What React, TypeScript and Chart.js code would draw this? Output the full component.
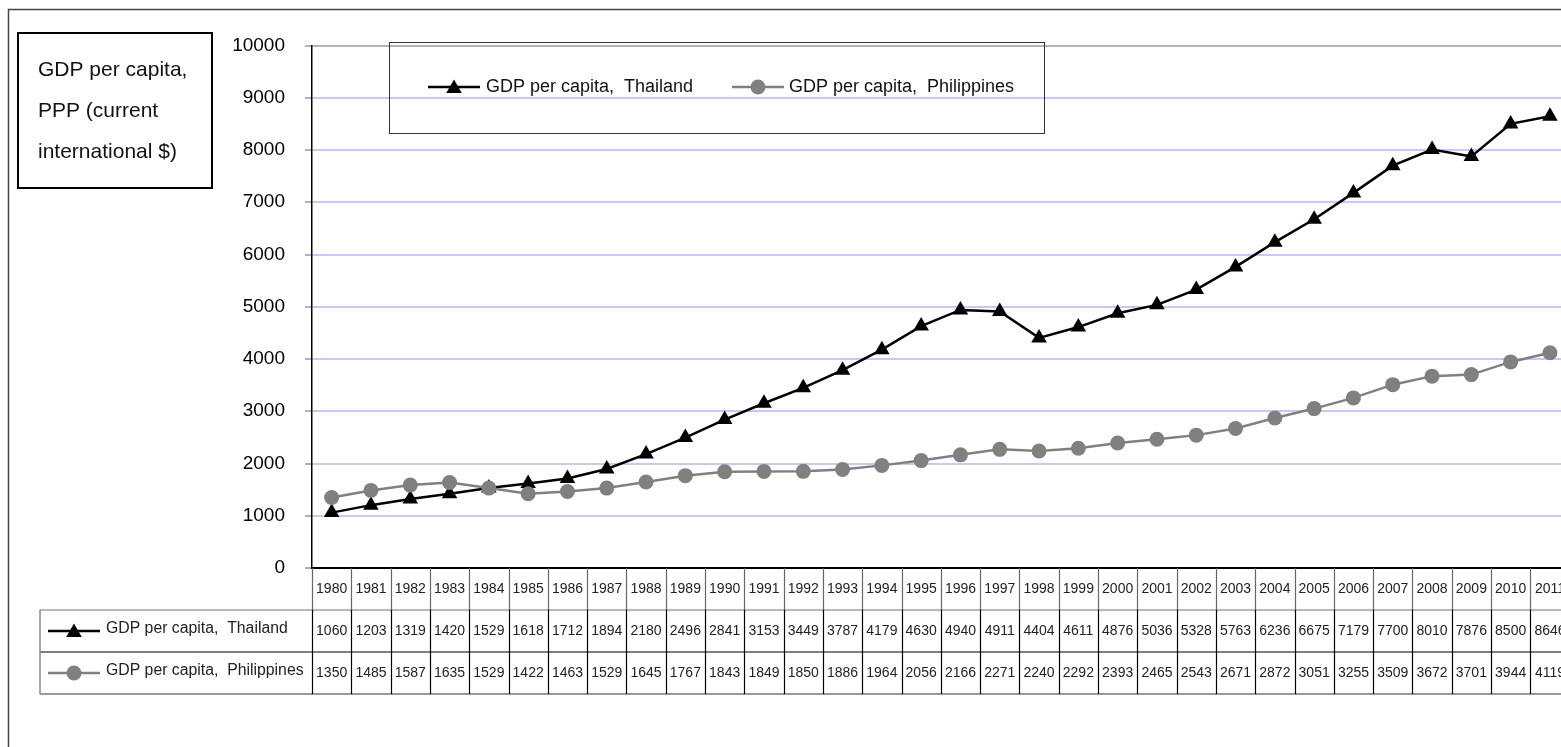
import React, { useEffect, useRef } from 'react';
import { Chart, registerables } from 'chart.js';

Chart.register(...registerables);

const years = ['1980','1981','1982','1983','1984','1985','1986','1987','1988','1989','1990','1991','1992','1993','1994','1995','1996','1997','1998','1999','2000','2001','2002','2003','2004','2005','2006','2007','2008','2009','2010','2011'];
const thailand = [1060,1203,1319,1420,1529,1618,1712,1894,2180,2496,2841,3153,3449,3787,4179,4630,4940,4911,4404,4611,4876,5036,5328,5763,6236,6675,7179,7700,8010,7876,8500,8646];
const philippines = [1350,1485,1587,1635,1529,1422,1463,1529,1645,1767,1843,1849,1850,1886,1964,2056,2166,2271,2240,2292,2393,2465,2543,2671,2872,3051,3255,3509,3672,3701,3944,4119];
const seriesLabels = ['GDP per capita,  Thailand', 'GDP per capita,  Philippines'];
const axisTitleLines = ['GDP per capita,', 'PPP (current', 'international $)'];
const yMin = 0;
const yMax = 10000;
const yStep = 1000;

const FONT = '"Liberation Sans", Arial, Helvetica, sans-serif';
const THAI_COLOR = '#000000';
const PHIL_COLOR = '#808080';

function drawTriangle(ctx: CanvasRenderingContext2D, x: number, y: number, r: number, color: string) {
  ctx.save();
  ctx.fillStyle = color;
  ctx.beginPath();
  ctx.moveTo(x, y - r);
  ctx.lineTo(x + r * Math.sin(Math.PI * 2 / 3), y - r * Math.cos(Math.PI * 2 / 3));
  ctx.lineTo(x + r * Math.sin(Math.PI * 4 / 3), y - r * Math.cos(Math.PI * 4 / 3));
  ctx.closePath();
  ctx.fill();
  ctx.restore();
}

function drawCircle(ctx: CanvasRenderingContext2D, x: number, y: number, r: number, color: string) {
  ctx.save();
  ctx.fillStyle = color;
  ctx.beginPath();
  ctx.arc(x, y, r, 0, Math.PI * 2);
  ctx.fill();
  ctx.restore();
}

function drawKey(ctx: CanvasRenderingContext2D, idx: number, x1: number, x2: number, y: number) {
  const color = idx === 0 ? THAI_COLOR : PHIL_COLOR;
  ctx.save();
  ctx.strokeStyle = color;
  ctx.lineWidth = 2.5;
  ctx.beginPath();
  ctx.moveTo(x1, y);
  ctx.lineTo(x2, y);
  ctx.stroke();
  ctx.restore();
  const cx = (x1 + x2) / 2;
  if (idx === 0) drawTriangle(ctx, cx, y + 1.5, 9, color);
  else drawCircle(ctx, cx, y, 7.5, color);
}

const decorPlugin = {
  id: 'decor',
  beforeDraw(chart: any) {
    const ctx: CanvasRenderingContext2D = chart.ctx;
    ctx.save();
    ctx.fillStyle = '#ffffff';
    ctx.fillRect(0, 0, chart.width, chart.height);
    ctx.strokeStyle = '#444';
    ctx.lineWidth = 1.5;
    ctx.strokeRect(8.5, 9.5, chart.width + 50, chart.height + 50);
    ctx.restore();
  },
  afterDraw(chart: any) {
    const ctx: CanvasRenderingContext2D = chart.ctx;
    const xs = chart.scales.x;
    const area = chart.chartArea;
    const n = years.length;
    const step = xs.getPixelForValue(1) - xs.getPixelForValue(0);
    const colLeft = xs.getPixelForValue(0) - step / 2;
    const top = area.bottom;
    const rowH = 42;
    const tableLeft = 40;
    const r1 = top + rowH;
    const r2 = r1 + rowH;
    const r3 = r2 + rowH;
    const rightEdge = colLeft + step * n;

    ctx.save();
    ctx.lineWidth = 1.5;
    ctx.strokeStyle = '#a0a0a0';
    ctx.beginPath(); ctx.moveTo(tableLeft, r1); ctx.lineTo(rightEdge, r1); ctx.stroke();
    ctx.strokeStyle = '#555';
    ctx.beginPath(); ctx.moveTo(tableLeft, r2); ctx.lineTo(rightEdge, r2); ctx.stroke();
    ctx.strokeStyle = '#777';
    ctx.beginPath(); ctx.moveTo(tableLeft, r3); ctx.lineTo(rightEdge, r3); ctx.stroke();
    ctx.strokeStyle = '#888';
    ctx.beginPath(); ctx.moveTo(tableLeft, r1); ctx.lineTo(tableLeft, r3); ctx.stroke();

    for (let i = 0; i <= n; i++) {
      const x = Math.round(colLeft + step * i) + 0.5;
      ctx.strokeStyle = '#666';
      ctx.lineWidth = 1.2;
      ctx.beginPath(); ctx.moveTo(x, top); ctx.lineTo(x, r1); ctx.stroke();
      ctx.strokeStyle = '#000';
      ctx.beginPath(); ctx.moveTo(x, r1); ctx.lineTo(x, r3); ctx.stroke();
    }

    ctx.fillStyle = '#222';
    ctx.font = `14px ${FONT}`;
    ctx.textAlign = 'center';
    ctx.textBaseline = 'middle';
    for (let i = 0; i < n; i++) {
      const cx = xs.getPixelForValue(i);
      ctx.fillText(years[i], cx, top + 21);
      ctx.fillText(String(thailand[i]), cx, r1 + 21);
      ctx.fillText(String(philippines[i]), cx, r2 + 21);
    }

    ctx.font = `15.8px ${FONT}`;
    ctx.textAlign = 'left';
    drawKey(ctx, 0, 48, 100, r1 + 21);
    ctx.fillStyle = '#222';
    ctx.fillText(seriesLabels[0], 106, r1 + 19);
    drawKey(ctx, 1, 48, 100, r2 + 21);
    ctx.fillStyle = '#222';
    ctx.fillText(seriesLabels[1], 106, r2 + 19);

    ctx.strokeStyle = '#333';
    ctx.lineWidth = 1;
    ctx.strokeRect(389.5, 42.5, 655, 91);
    drawKey(ctx, 0, 428, 480, 87);
    drawKey(ctx, 1, 732, 784, 87);
    ctx.fillStyle = '#111';
    ctx.font = `18px ${FONT}`;
    ctx.textAlign = 'left';
    ctx.textBaseline = 'middle';
    ctx.fillText(seriesLabels[0], 486, 87);
    ctx.fillText(seriesLabels[1], 789, 87);

    ctx.strokeStyle = '#000';
    ctx.lineWidth = 2;
    ctx.strokeRect(18, 33, 194, 155);
    ctx.fillStyle = '#111';
    ctx.font = `21px ${FONT}`;
    axisTitleLines.forEach((t, i) => ctx.fillText(t, 38, 70 + i * 41));
    ctx.restore();
  },
};

export default function App() {
  const ref = useRef<HTMLCanvasElement | null>(null);
  useEffect(() => {
    if (!ref.current) return;
    const chart = new Chart(ref.current, {
      type: 'line',
      data: {
        labels: years,
        datasets: [
          {
            label: seriesLabels[0],
            data: thailand,
            borderColor: THAI_COLOR,
            backgroundColor: THAI_COLOR,
            borderWidth: 2.5,
            pointStyle: 'triangle',
            pointRadius: 9,
            pointBorderWidth: 0,
            pointBackgroundColor: THAI_COLOR,
            pointBorderColor: THAI_COLOR,
            tension: 0,
            order: 2,
          },
          {
            label: seriesLabels[1],
            data: philippines,
            borderColor: PHIL_COLOR,
            backgroundColor: PHIL_COLOR,
            borderWidth: 2.5,
            pointStyle: 'circle',
            pointRadius: 7.5,
            pointBorderWidth: 0,
            pointBackgroundColor: PHIL_COLOR,
            pointBorderColor: PHIL_COLOR,
            tension: 0,
            order: 1,
          },
        ],
      },
      options: {
        responsive: false,
        animation: false,
        devicePixelRatio: 1,
        layout: { padding: { left: 0, top: 45.5, right: 30.4, bottom: 192 } },
        plugins: {
          legend: { display: false },
          tooltip: { enabled: false },
          title: { display: false },
        },
        scales: {
          x: {
            type: 'category',
            offset: true,
            grid: { display: false },
            border: { display: true, color: '#000', width: 1.5 },
            ticks: { display: false },
            afterFit: (s: any) => { s.height = 0; },
          },
          y: {
            min: yMin,
            max: yMax,
            ticks: {
              stepSize: yStep,
              color: '#000',
              padding: 20,
              font: { family: FONT, size: 19 },
              callback: (v: any) => String(v),
            },
            grid: {
              color: (c: any) => {
                const v = c.tick ? c.tick.value : null;
                if (v === yMax) return '#b4b4b4';
                if (v === yMin) return '#000';
                return '#c8c8f6';
              },
              lineWidth: 2,
              tickLength: 7,
              tickColor: '#666',
              tickWidth: 1,
            },
            border: { color: '#000', width: 1.5 },
            afterFit: (s: any) => { s.width = 312; },
          },
        },
      } as any,
      plugins: [decorPlugin],
    });
    return () => chart.destroy();
  }, []);

  return (
    <div style={{ position: 'absolute', left: 0, top: 0, width: 1561, height: 747, overflow: 'hidden', background: '#fff' }}>
      <canvas ref={ref} width={1600} height={760} style={{ display: 'block', width: 1600, height: 760 }} />
    </div>
  );
}
